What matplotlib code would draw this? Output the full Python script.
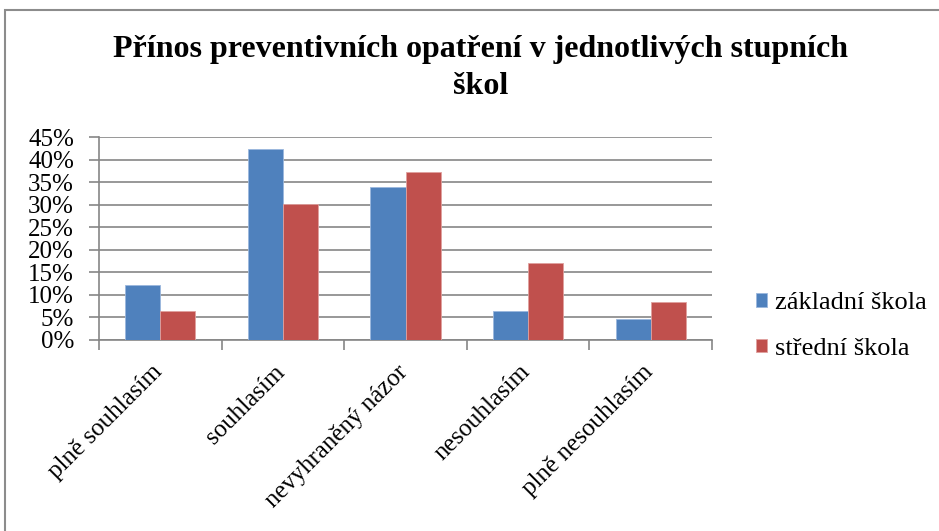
import matplotlib
matplotlib.use("Agg")
import matplotlib.pyplot as plt
import matplotlib.transforms as mtransforms
from matplotlib import font_manager
from matplotlib.patches import Rectangle
import numpy as np

# data
categories = ["plně souhlasím", "souhlasím", "nevyhraněný názor", "nesouhlasím", "plně nesouhlasím"]
zakladni = [12.1, 42.3, 33.9, 6.4, 4.6]
stredni = [6.4, 30.1, 37.4, 17.2, 8.5]
series_names = ["základní škola", "střední škola"]
yticks = [0, 5, 10, 15, 20, 25, 30, 35, 40, 45]

installed = {f.name for f in font_manager.fontManager.ttflist}
serif = [n for n in ['Liberation Serif', 'Times New Roman', 'Nimbus Roman', 'DejaVu Serif']
         if n in installed]
plt.rcParams['font.family'] = 'serif'
plt.rcParams['font.serif'] = serif + ['DejaVu Serif']

fig = plt.figure(figsize=(9.39, 5.31), dpi=100)
ax = fig.add_axes([99/939, 1 - 340/531, (712 - 99)/939, (340 - 137.3)/531])

# outer chart frame (only top and left edges are visible)
fig.patches.append(Rectangle((5/939, -0.1), 1.2, (531 - 10)/531 + 0.1,
                             transform=fig.transFigure, fill=False,
                             edgecolor='#8c8c8c', linewidth=1.5))

x = np.arange(len(categories))
w = 0.286
ax.bar(x - w/2, zakladni, w, color='#4F81BD', edgecolor='#9bb7dd', linewidth=0.6,
       label=series_names[0], zorder=3)
ax.bar(x + w/2, stredni, w, color='#C0504D', edgecolor='#e0a09e', linewidth=0.6,
       label=series_names[1], zorder=3)

ax.set_xlim(-0.5, len(categories) - 0.5)
ax.set_ylim(0, 45)
ax.set_yticks(yticks)
ax.set_yticklabels([f"{v}%" for v in yticks], fontsize=18)
ax.yaxis.grid(True, color='#868686', linewidth=1.2, zorder=0)
ax.tick_params(axis='y', length=7, width=1.2, color='#868686', pad=11)

# tick marks at category boundaries, labels at centers
ax.set_xticks(np.arange(len(categories) + 1) - 0.5)
ax.set_xticklabels([])
ax.tick_params(axis='x', which='major', length=7, width=1.2, color='#868686')
ax.set_xticks(x, minor=True)
ax.set_xticklabels(categories, minor=True, rotation=45, ha='right',
                   rotation_mode='anchor', fontsize=18)
ax.tick_params(axis='x', which='minor', length=0, pad=15)
offset = mtransforms.ScaledTranslation(-9/100, 0, fig.dpi_scale_trans)
for lab in ax.xaxis.get_minorticklabels():
    lab.set_transform(lab.get_transform() + offset)

for s in ['top', 'right']:
    ax.spines[s].set_visible(False)
for s in ['left', 'bottom']:
    ax.spines[s].set_color('#868686')
    ax.spines[s].set_linewidth(1.2)

fig.text(0.512, 1 - 50/531, "Přínos preventivních opatření v jednotlivých stupních",
         ha='center', va='center', fontsize=23, fontweight='bold')
fig.text(0.512, 1 - 87/531, "škol", ha='center', va='center',
         fontsize=23, fontweight='bold')

ax.legend(loc='center left', bbox_to_anchor=(745/939, 1 - 326/531),
          bbox_transform=fig.transFigure, frameon=False, fontsize=19,
          handlelength=0.42, handleheight=0.42, handletextpad=0.3,
          labelspacing=0.9, borderaxespad=0)

fig.savefig("out.png", dpi=100)
